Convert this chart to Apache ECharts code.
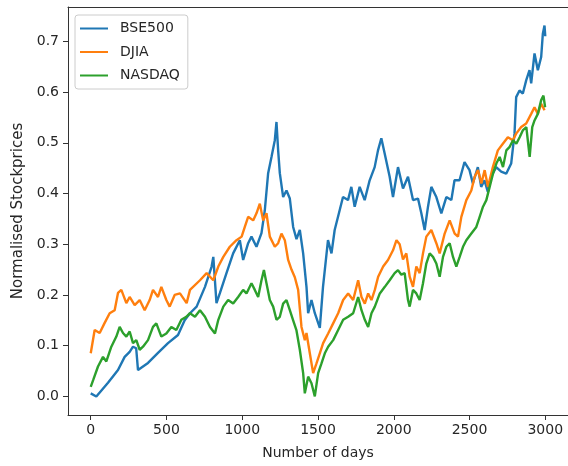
<!DOCTYPE html>
<html>
<head>
<meta charset="utf-8">
<script src="https://cdn.jsdelivr.net/npm/echarts@6/dist/echarts.min.js"></script>
<style>
html,body{margin:0;padding:0;background:#fff;}
#c{width:568px;height:466px;}
</style>
</head>
<body>
<div id="c"></div>
<script>
const seriesNames = ['BSE500', 'DJIA', 'NASDAQ'];
const xTicks = [0, 500, 1000, 1500, 2000, 2500, 3000];
const yTicks = [0, 0.1, 0.2, 0.3, 0.4, 0.5, 0.6, 0.7];

const bse500 = [[0,0.006],[37,0.0],[114,0.027],[180,0.052],[224,0.078],[257,0.088],[279,0.098],[300,0.095],[312,0.052],[378,0.066],[444,0.086],[510,0.105],[576,0.121],[620,0.15],[655,0.164],[699,0.177],[754,0.216],[798,0.256],[809,0.275],[830,0.184],[853,0.204],[896,0.243],[940,0.282],[984,0.308],[1006,0.269],[1039,0.302],[1061,0.315],[1094,0.295],[1127,0.322],[1149,0.367],[1171,0.44],[1193,0.472],[1215,0.505],[1226,0.541],[1237,0.485],[1248,0.44],[1270,0.393],[1292,0.406],[1314,0.39],[1336,0.334],[1358,0.31],[1380,0.328],[1402,0.282],[1424,0.216],[1435,0.164],[1457,0.19],[1479,0.164],[1512,0.135],[1533,0.216],[1566,0.308],[1589,0.282],[1610,0.328],[1643,0.367],[1665,0.393],[1698,0.387],[1720,0.413],[1742,0.374],[1775,0.413],[1808,0.387],[1841,0.426],[1874,0.452],[1896,0.485],[1918,0.509],[1940,0.479],[1973,0.433],[1995,0.393],[2028,0.452],[2061,0.41],[2094,0.433],[2127,0.387],[2160,0.39],[2182,0.361],[2204,0.328],[2226,0.374],[2248,0.413],[2281,0.393],[2314,0.361],[2347,0.393],[2380,0.387],[2401,0.426],[2434,0.426],[2467,0.462],[2500,0.446],[2522,0.42],[2555,0.452],[2577,0.413],[2599,0.426],[2621,0.403],[2643,0.433],[2676,0.452],[2709,0.443],[2742,0.439],[2775,0.459],[2797,0.518],[2808,0.59],[2830,0.603],[2852,0.597],[2874,0.623],[2896,0.643],[2907,0.617],[2929,0.676],[2951,0.643],[2973,0.669],[2984,0.715],[2995,0.731],[3000,0.71]];

const djia = [[0,0.085],[26,0.131],[59,0.125],[92,0.145],[125,0.164],[158,0.17],[180,0.204],[202,0.21],[235,0.184],[257,0.196],[290,0.18],[323,0.19],[356,0.17],[389,0.19],[411,0.21],[444,0.196],[466,0.216],[499,0.19],[521,0.177],[554,0.2],[589,0.203],[633,0.184],[655,0.21],[721,0.229],[765,0.243],[809,0.229],[842,0.256],[875,0.275],[918,0.295],[962,0.308],[996,0.315],[1017,0.334],[1039,0.354],[1072,0.347],[1094,0.361],[1116,0.38],[1138,0.347],[1160,0.361],[1182,0.315],[1215,0.295],[1237,0.302],[1259,0.321],[1281,0.308],[1303,0.269],[1325,0.25],[1347,0.235],[1369,0.21],[1391,0.137],[1413,0.111],[1424,0.125],[1446,0.085],[1468,0.046],[1490,0.065],[1512,0.085],[1534,0.105],[1567,0.124],[1600,0.144],[1633,0.164],[1666,0.19],[1699,0.203],[1732,0.19],[1765,0.229],[1787,0.196],[1809,0.183],[1831,0.203],[1853,0.19],[1875,0.21],[1897,0.236],[1930,0.256],[1962,0.269],[1995,0.288],[2018,0.308],[2039,0.3],[2061,0.27],[2083,0.282],[2105,0.236],[2127,0.216],[2149,0.256],[2171,0.243],[2193,0.282],[2215,0.315],[2248,0.328],[2281,0.302],[2303,0.282],[2336,0.321],[2369,0.347],[2402,0.321],[2424,0.315],[2446,0.354],[2479,0.387],[2512,0.406],[2534,0.433],[2556,0.446],[2578,0.42],[2600,0.446],[2622,0.413],[2654,0.452],[2687,0.485],[2720,0.498],[2753,0.511],[2786,0.505],[2808,0.518],[2841,0.531],[2874,0.538],[2907,0.557],[2929,0.57],[2951,0.557],[2973,0.577],[2995,0.564]];

const nasdaq = [[0,0.019],[16,0.032],[48,0.059],[81,0.078],[103,0.069],[136,0.098],[169,0.118],[191,0.137],[213,0.125],[235,0.118],[257,0.128],[279,0.105],[301,0.111],[323,0.092],[345,0.098],[378,0.111],[411,0.137],[433,0.144],[466,0.118],[499,0.124],[532,0.137],[565,0.131],[598,0.151],[631,0.157],[655,0.164],[688,0.157],[721,0.17],[754,0.157],[787,0.137],[820,0.124],[842,0.151],[875,0.177],[907,0.19],[940,0.183],[973,0.196],[1006,0.21],[1028,0.203],[1061,0.223],[1083,0.21],[1105,0.196],[1127,0.229],[1143,0.249],[1160,0.223],[1182,0.19],[1204,0.177],[1226,0.151],[1248,0.157],[1270,0.183],[1292,0.19],[1314,0.17],[1336,0.15],[1358,0.13],[1380,0.092],[1402,0.046],[1413,0.006],[1435,0.039],[1457,0.026],[1479,0.0],[1501,0.046],[1523,0.065],[1545,0.085],[1567,0.098],[1600,0.111],[1633,0.131],[1666,0.151],[1699,0.157],[1732,0.164],[1765,0.196],[1787,0.17],[1809,0.151],[1831,0.137],[1853,0.164],[1875,0.177],[1908,0.203],[1941,0.216],[1973,0.229],[2006,0.243],[2028,0.249],[2050,0.24],[2072,0.243],[2094,0.19],[2105,0.177],[2127,0.21],[2149,0.203],[2171,0.19],[2193,0.223],[2215,0.262],[2237,0.282],[2259,0.275],[2281,0.262],[2303,0.236],[2325,0.275],[2347,0.295],[2369,0.302],[2391,0.275],[2413,0.256],[2435,0.275],[2457,0.295],[2479,0.308],[2512,0.321],[2545,0.334],[2567,0.354],[2589,0.374],[2611,0.387],[2633,0.413],[2655,0.439],[2677,0.459],[2699,0.472],[2721,0.452],[2743,0.485],[2765,0.492],[2787,0.505],[2809,0.498],[2831,0.511],[2853,0.525],[2875,0.531],[2897,0.472],[2914,0.531],[2929,0.544],[2951,0.557],[2973,0.584],[2988,0.593],[2999,0.57]];

const colors = ['#1f77b4', '#ff7f0e', '#2ca02c'];
const font = 'DejaVu Sans';
const txt = '#262626';
const frame = '#333333';

const chart = echarts.init(document.getElementById('c'), null, {renderer: 'canvas'});
const dataSets = [bse500, djia, nasdaq];

const xMin = -150, xMax = 3150, yMin = -0.0366, yMax = 0.7676;

chart.setOption({
  animation: false,
  backgroundColor: '#fff',
  color: colors,
  grid: {left: 68, right: 0, top: 7, bottom: 51},
  legend: {
    orient: 'vertical',
    left: 75, top: 15,
    padding: [5, 8, 5, 5],
    itemGap: 6.5,
    itemWidth: 28, itemHeight: 2,
    icon: 'rect',
    borderColor: '#cccccc', borderWidth: 1, borderRadius: 3,
    backgroundColor: 'rgba(255,255,255,0.8)',
    textStyle: {fontFamily: font, fontSize: 14, color: txt, lineHeight: 17, padding: [0, 0, 0, 7]},
    data: seriesNames
  },
  xAxis: [{
    type: 'value', min: xMin, max: xMax, position: 'bottom',
    name: 'Number of days', nameLocation: 'middle', nameGap: 31,
    nameTextStyle: {fontFamily: font, fontSize: 14, color: txt},
    axisLine: {show: true, onZero: false, lineStyle: {color: frame, width: 1}},
    splitLine: {show: false},
    axisTick: {show: true, length: 5, inside: false, customValues: xTicks, lineStyle: {color: frame}},
    axisLabel: {customValues: xTicks, fontFamily: font, fontSize: 14, color: txt, margin: 8,
      formatter: v => String(v)}
  }, {
    type: 'value', min: xMin, max: xMax, position: 'top',
    axisLine: {show: true, onZero: false, lineStyle: {color: frame, width: 1}},
    axisTick: {show: false}, axisLabel: {show: false}, splitLine: {show: false}
  }],
  yAxis: [{
    type: 'value', min: yMin, max: yMax, position: 'left',
    name: 'Normalised Stockprices', nameLocation: 'middle', nameGap: 37, nameRotate: 90,
    nameTextStyle: {fontFamily: font, fontSize: 15, color: txt},
    axisLine: {show: true, onZero: false, lineStyle: {color: frame, width: 1}},
    splitLine: {show: false},
    axisTick: {show: true, length: 5, inside: false, customValues: yTicks, lineStyle: {color: frame}},
    axisLabel: {customValues: yTicks, fontFamily: font, fontSize: 14, color: txt, margin: 9,
      formatter: v => v.toFixed(1)}
  }, {
    type: 'value', min: yMin, max: yMax, position: 'right',
    axisLine: {show: true, onZero: false, lineStyle: {color: frame, width: 1}},
    axisTick: {show: false}, axisLabel: {show: false}, splitLine: {show: false}
  }],
  series: seriesNames.map((n, i) => ({
    name: n, type: 'line', data: dataSets[i],
    xAxisIndex: 0, yAxisIndex: 0,
    showSymbol: false, symbol: 'none',
    lineStyle: {width: 2.4, color: colors[i]},
    itemStyle: {color: colors[i]},
    emphasis: {disabled: true}
  }))
});
</script>
</body>
</html>
